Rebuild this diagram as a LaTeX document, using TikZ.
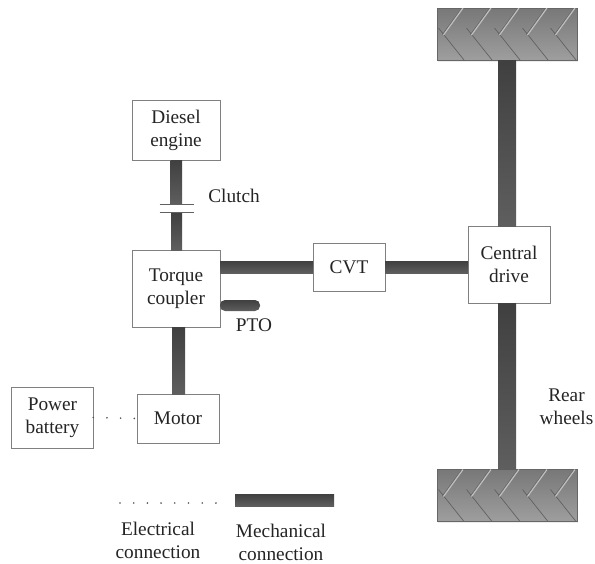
\documentclass[tikz,border=0pt]{standalone}
\usepackage{fontspec}
\setmainfont{Liberation Serif}
\usetikzlibrary{shadows,calc}
\definecolor{txt}{gray}{0.14}
\definecolor{edge}{gray}{0.5}
\definecolor{shaftA}{gray}{0.25}
\definecolor{shaftB}{gray}{0.37}
\tikzset{
  x=1pt,y=-1pt,
  every node/.style={font=\fontsize{19.3}{23}\selectfont,text=txt,inner sep=0pt,outer sep=0pt,align=center},
  unitbox/.style={draw=edge,line width=0.9pt,fill=white,drop shadow={shadow xshift=1pt,shadow yshift=-1pt,opacity=0.25,fill=gray}},
  tyre/.style={draw=edge!80!black,line width=0.8pt,minimum width=140pt,minimum height=52pt,top color=black!53,bottom color=black!38,drop shadow={shadow xshift=1pt,shadow yshift=-1.5pt,opacity=0.15,fill=gray}},
  shaftH/.style={top color=shaftA,bottom color=shaftB,draw=none},
  shaftDown/.style={top color=shaftA,bottom color=shaftB,draw=none},
  elec/.style={draw=black!68,line width=1.8pt,line cap=round,dash pattern=on 0pt off 13.7pt},
  plate/.style={draw=black!62,line width=1.5pt},
  treadA/.style={draw=black!25,line width=1.2pt},
  treadC/.style={draw=black!60,line width=0.8pt},
  treadB/.style={draw=black!62,line width=0.7pt}
}
\begin{document}
\begin{tikzpicture}
\useasboundingbox (0,0) rectangle (595,563);
\node[tyre] (tt) at (507,34) {};
\node[tyre] (tb) at (507,495.5) {};
\foreach \t in {tt,tb}{
  \begin{scope}
    \clip (\t.north west) rectangle (\t.south east);
    \foreach \i in {0,28,56,84,112}{
      \draw[treadB] ($(\t.north west)+(1.5+\i,20)$) -- ($(\t.north west)+(27+\i,52)$);
      \draw[treadC] ($(\t.north west)+(25+\i,0)$) -- ($(\t.north west)+(5.5+\i,26.5)$);
      \draw[treadA] ($(\t.north west)+(26+\i,0)$) -- ($(\t.north west)+(6.5+\i,27)$);
    }
  \end{scope}
}
\node[unitbox,minimum width=88pt,minimum height=60pt] (de) at (176,130) {Diesel\\engine};
\node[unitbox,minimum width=88pt,minimum height=77pt] (tc) at (176,288.5) {Torque\\coupler};
\node[unitbox,minimum width=82pt,minimum height=49pt] (mo) at (178,418.5) {Motor};
\node[unitbox,minimum width=81.5pt,minimum height=61pt] (pb) at (52.5,417.5) {Power\\battery};
\node[unitbox,minimum width=72pt,minimum height=48pt] (cv) at (349,267) {CVT};
\node[unitbox,minimum width=82pt,minimum height=77pt] (cd) at (509,264.5) {Central\\drive};
% clutch
\coordinate (c1) at (176.5,204.5);
\coordinate (c2) at (176.5,212.5);
\shade[shaftDown] ($(de.south)+(-5.5,0)$) rectangle ($(c1)+(5.5,0)$);
\shade[shaftDown] ($(c2)+(-5.5,0)$) rectangle ($(tc.north)+(6,0)$);
\draw[plate] ($(c1)+(-17,0)$) -- ($(c1)+(17,0)$);
\draw[plate] ($(c2)+(-17,0)$) -- ($(c2)+(17,0)$);
% mechanical shafts
\shade[shaftDown] ($(tc.south)+(-4,0)$) rectangle ($(mo.north)+(7,0)$);
\shade[shaftH] ($(tc.east |- cv.west)+(0,-6)$) rectangle ($(cv.west)+(0,6)$);
\shade[shaftH] ($(cv.east)+(0,-6)$) rectangle ($(cd.west |- cv.east)+(0,6)$);
\shade[shaftDown] ($(tt.south)+(-9,0)$) rectangle ($(tt.south |- cd.north)+(9,0)$);
\shade[shaftDown] ($(tt.south |- cd.south)+(-9,0)$) rectangle ($(tb.north)+(9,0)$);
% PTO
\coordinate (ptoEnd) at (260,305.5);
\shade[shaftH,rounded corners=5pt] ($(tc.east |- ptoEnd)+(0,-5.5)$) rectangle ($(ptoEnd)+(0,5.5)$);
% electrical
\draw[elec] (pb.east) -- (mo.west);
\coordinate (l1) at (120,503);
\coordinate (l2) at (216,503);
\draw[elec] (l1) -- (l2);
\coordinate (m1) at (235,494);
\coordinate (m2) at (334,506);
\shade[shaftH] (m1) rectangle (m2);
% labels
\node (clutch) at (234,196) {Clutch};
\node (pto) at (254,325) {PTO};
\node (rear) at (566.5,407) {Rear\\wheels};
\node (le) at (158,540) {Electrical\\connection};
\node (lm) at (281,542) {Mechanical\\connection};
\end{tikzpicture}
\end{document}
